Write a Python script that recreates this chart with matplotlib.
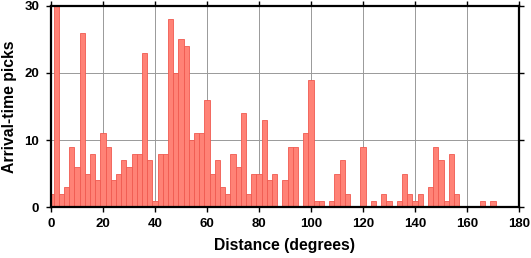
import matplotlib
matplotlib.use("Agg")
import matplotlib.pyplot as plt
import numpy as np

plt.rcParams['font.family'] = ['Liberation Sans', 'DejaVu Sans']

# bin centres (degrees), 2-degree bins centred on even values
centers = list(range(0, 182, 2))
counts = [2, 30, 2, 3, 9, 6, 26, 5, 8, 4,
          11, 9, 4, 5, 7, 6, 8, 8, 23, 7,
          1, 8, 8, 28, 20, 25, 24, 10, 11, 11,
          16, 5, 7, 3, 2, 8, 6, 14, 2, 5,
          5, 13, 4, 5, 0, 4, 9, 9, 0, 11,
          19, 1, 1, 0, 1, 5, 7, 2, 0, 0,
          9, 0, 1, 0, 2, 1, 0, 1, 5, 2,
          1, 2, 0, 3, 9, 7, 1, 8, 2, 0,
          0, 0, 0, 1, 0, 1, 0, 0, 0, 0,
          0]

xticks = [0, 20, 40, 60, 80, 100, 120, 140, 160, 180]
yticks = [0, 10, 20, 30]

fig = plt.figure(figsize=(5.31, 2.58), dpi=100)
ax = fig.add_axes([51/531, 1 - 207.3/258, 468/531, 201.6/258])

ax.bar(centers, counts, width=2, align='center', color='#ff8276',
       edgecolor='#f05a50', linewidth=0.6, zorder=2)

ax.set_xlim(0, 180)
ax.set_ylim(0, 30)
ax.set_xticks(xticks)
ax.set_yticks(yticks)
ax.grid(True, color='#999999', linewidth=0.7, zorder=0)
ax.set_axisbelow(True)

for s in ax.spines.values():
    s.set_linewidth(1.6)
    s.set_color('black')
    s.set_zorder(5)

ax.tick_params(axis='both', direction='out', length=3.5, width=1,
               top=True, right=True, labelsize=9.5)
ax.tick_params(axis='x', pad=4)
ax.tick_params(axis='y', pad=5)
for lab in ax.get_xticklabels() + ax.get_yticklabels():
    lab.set_fontweight('bold')

ax.set_xlabel('Distance (degrees)', fontsize=11.3, fontweight='bold', labelpad=6)
ax.set_ylabel('Arrival-time picks', fontsize=11.3, fontweight='bold', labelpad=5)

fig.savefig('out.png', dpi=100)
